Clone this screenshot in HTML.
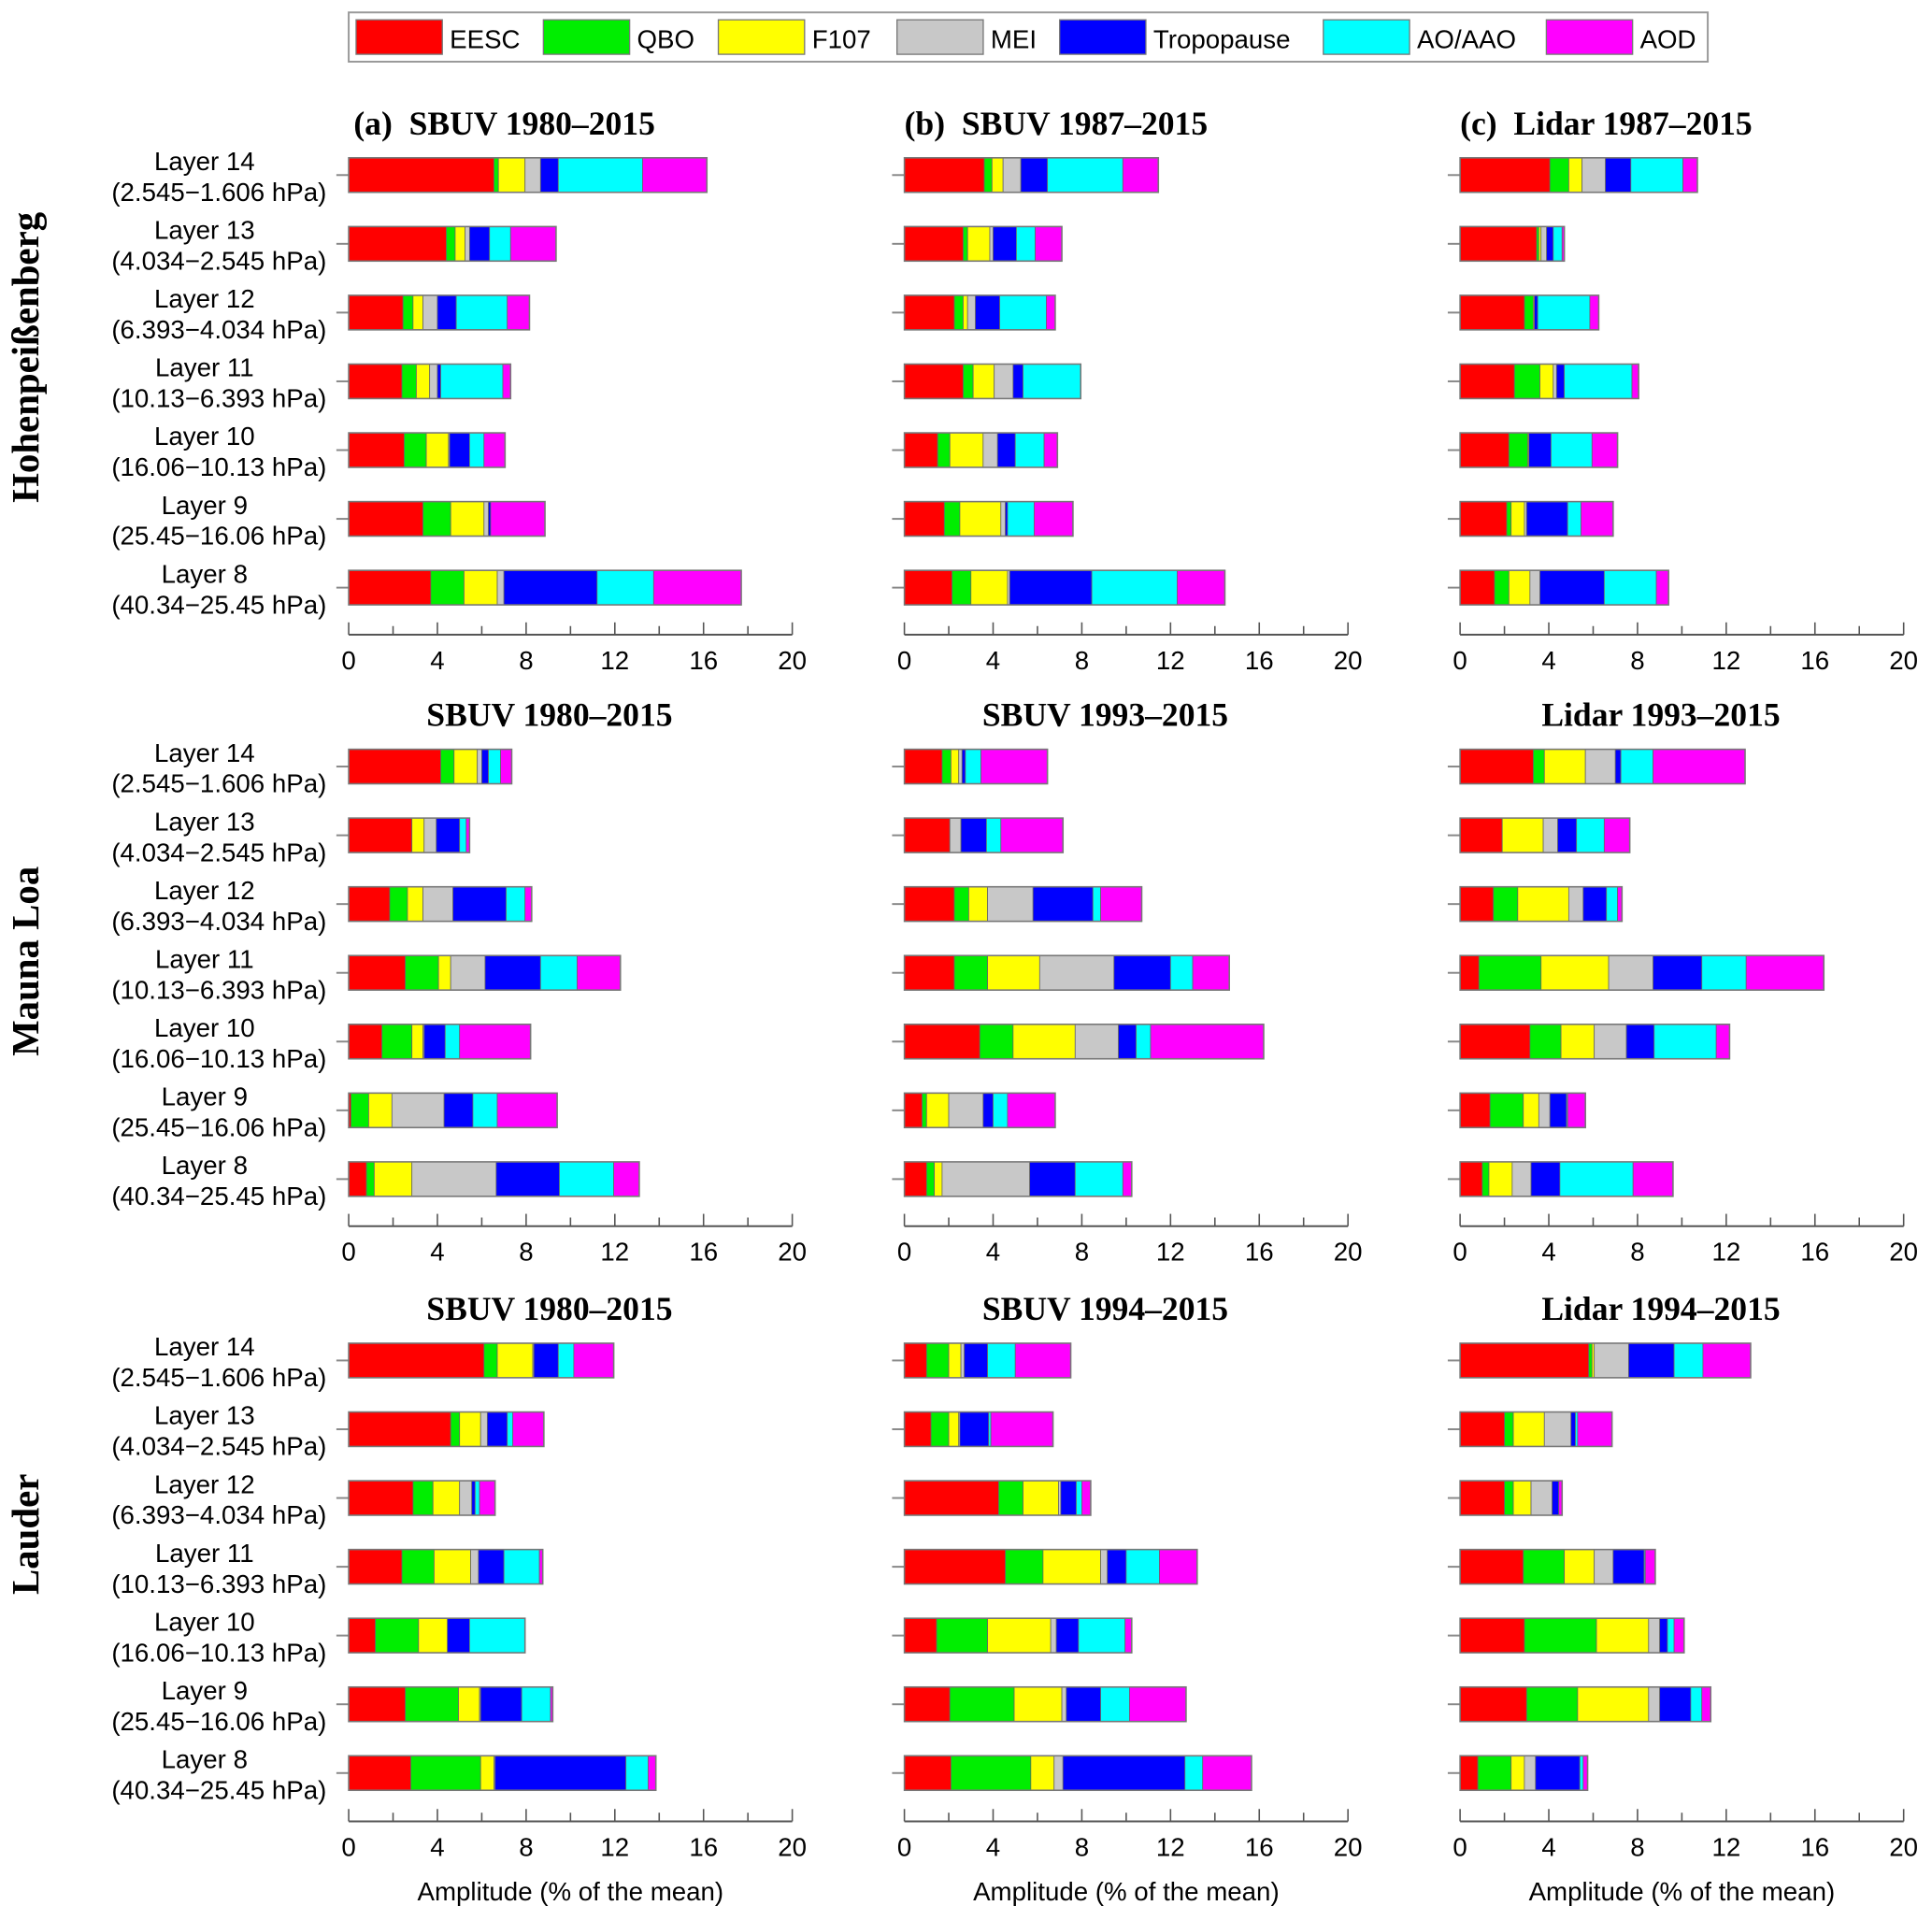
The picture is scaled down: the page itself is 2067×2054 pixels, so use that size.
<!DOCTYPE html>
<html><head><meta charset="utf-8"><style>
html,body{margin:0;padding:0;background:#fff}
svg{display:block}
.tk{font-family:"Liberation Sans",sans-serif;font-size:21px;fill:#000}
.ll{font-family:"Liberation Sans",sans-serif;font-size:21px;fill:#000}
.tt{font-family:"Liberation Serif",serif;font-size:27px;font-weight:bold;fill:#000}
.rl{font-family:"Liberation Serif",serif;font-size:31px;font-weight:bold;fill:#000}
</style></head><body>
<svg id="chart" width="2067" height="2054" viewBox="0 0 1568 1558" xmlns="http://www.w3.org/2000/svg">
<rect x="0" y="0" width="1568" height="1558" fill="#fff"/>
<g id="legend">
<rect x="283" y="10" width="1103" height="40" fill="#fff" stroke="#999" stroke-width="1.5"/>
</g>
<g id="plots"></g>
</svg>
<script>
const series = ["EESC","QBO","F107","MEI","Tropopause","AO/AAO","AOD"];
const colors = ["#ff0000","#00ee00","#ffff00","#c8c8c8","#0000ff","#00ffff","#ff00ff"];
const layerNames = ["Layer 14","Layer 13","Layer 12","Layer 11","Layer 10","Layer 9","Layer 8"];
const layerRanges = ["(2.545\u22121.606 hPa)","(4.034\u22122.545 hPa)","(6.393\u22124.034 hPa)","(10.13\u22126.393 hPa)","(16.06\u221210.13 hPa)","(25.45\u221216.06 hPa)","(40.34\u221225.45 hPa)"];
const xTicks = [0,4,8,12,16,20];
const stations = ["Hohenpei\u00dfenberg","Mauna Loa","Lauder"];
const titles = [["(a)\u00a0\u00a0SBUV 1980\u20132015","(b)\u00a0\u00a0SBUV 1987\u20132015","(c)\u00a0\u00a0Lidar 1987\u20132015"],
                ["SBUV 1980\u20132015","SBUV 1993\u20132015","Lidar 1993\u20132015"],
                ["SBUV 1980\u20132015","SBUV 1994\u20132015","Lidar 1994\u20132015"]];
// rows = layers 14..8; columns = EESC,QBO,F107,MEI,Tropopause,AO/AAO,AOD
const hohenSbuv = [[6.55,0.2,1.2,0.7,0.8,3.8,2.9],[4.4,0.4,0.45,0.2,0.9,0.95,2.05],[2.45,0.45,0.45,0.65,0.85,2.3,1.0],[2.4,0.65,0.6,0.35,0.15,2.8,0.35],[2.5,1.0,1.0,0.05,0.9,0.65,0.95],[3.35,1.25,1.5,0.2,0.1,0,2.45],[3.7,1.5,1.5,0.3,4.2,2.55,3.95]];
const hohenSbuvB = [[3.6,0.35,0.5,0.8,1.2,3.4,1.6],[2.65,0.2,1.0,0.15,1.05,0.85,1.2],[2.25,0.4,0.2,0.35,1.1,2.1,0.4],[2.65,0.45,0.95,0.85,0.45,2.6,0],[1.5,0.55,1.5,0.65,0.8,1.3,0.6],[1.8,0.7,1.85,0.2,0.1,1.2,1.75],[2.15,0.85,1.65,0.1,3.7,3.85,2.15]];
const hohenLidar = [[4.05,0.85,0.6,1.05,1.15,2.35,0.65],[3.45,0.1,0.1,0.25,0.3,0.4,0.1],[2.9,0.4,0.05,0,0.15,2.35,0.4],[2.45,1.15,0.6,0.15,0.35,3.05,0.3],[2.2,0.85,0.05,0,1.0,1.85,1.15],[2.1,0.2,0.6,0.1,1.85,0.6,1.45],[1.55,0.65,0.95,0.45,2.9,2.35,0.55]];
const maunaSbuv = [[4.15,0.6,1.05,0.2,0.3,0.55,0.5],[2.85,0,0.55,0.55,1.05,0.3,0.15],[1.85,0.8,0.7,1.35,2.4,0.85,0.3],[2.55,1.5,0.55,1.55,2.5,1.65,1.95],[1.5,1.35,0.5,0.05,0.95,0.65,3.2],[0.1,0.8,1.05,2.35,1.3,1.1,2.7],[0.8,0.35,1.7,3.8,2.85,2.45,1.15]];
const maunaSbuvB = [[1.7,0.4,0.35,0.15,0.15,0.7,3.0],[2.05,0,0,0.5,1.15,0.65,2.8],[2.25,0.65,0.85,2.05,2.7,0.35,1.85],[2.25,1.5,2.35,3.35,2.55,1.0,1.65],[3.4,1.5,2.8,1.95,0.8,0.65,5.1],[0.8,0.2,1.0,1.55,0.45,0.65,2.15],[1.0,0.35,0.35,3.95,2.05,2.15,0.4]];
const maunaLidar = [[3.3,0.5,1.85,1.35,0.25,1.45,4.15],[1.9,0,1.85,0.65,0.85,1.25,1.15],[1.5,1.1,2.3,0.65,1.05,0.5,0.2],[0.85,2.8,3.05,2.0,2.2,2.0,3.5],[3.15,1.4,1.5,1.45,1.25,2.8,0.6],[1.35,1.5,0.7,0.5,0.75,0.05,0.8],[1.0,0.3,1.05,0.85,1.3,3.3,1.8]];
const lauderSbuv = [[6.1,0.6,1.6,0.05,1.1,0.7,1.8],[4.6,0.4,0.95,0.3,0.9,0.25,1.4],[2.9,0.9,1.2,0.55,0.15,0.2,0.7],[2.4,1.45,1.65,0.35,1.15,1.6,0.15],[1.2,1.95,1.3,0,1.0,2.5,0],[2.55,2.4,0.95,0.05,1.85,1.3,0.1],[2.8,3.15,0.6,0.05,5.9,1.0,0.35]];
const lauderSbuvB = [[1.0,1.0,0.55,0.15,1.05,1.25,2.5],[1.2,0.8,0.45,0.05,1.3,0.1,2.8],[4.25,1.1,1.6,0.1,0.7,0.25,0.4],[4.55,1.7,2.6,0.3,0.85,1.5,1.7],[1.45,2.3,2.85,0.25,1.0,2.1,0.3],[2.05,2.9,2.15,0.2,1.55,1.3,2.55],[2.1,3.6,1.05,0.4,5.5,0.8,2.2]];
const lauderLidar = [[5.8,0.15,0.1,1.55,2.05,1.3,2.15],[2.0,0.4,1.4,1.2,0.2,0.1,1.55],[2.0,0.4,0.8,0.95,0.3,0,0.15],[2.85,1.85,1.35,0.85,1.4,0.05,0.45],[2.9,3.25,2.35,0.5,0.35,0.3,0.45],[3.0,2.3,3.2,0.5,1.4,0.5,0.4],[0.8,1.5,0.6,0.5,2.0,0.15,0.2]];
const panelData = [[hohenSbuv,hohenSbuvB,hohenLidar],[maunaSbuv,maunaSbuvB,maunaLidar],[lauderSbuv,lauderSbuvB,lauderLidar]];

const NS="http://www.w3.org/2000/svg";
function mk(tag,attrs,parent,text){const e=document.createElementNS(NS,tag);for(const k in attrs)e.setAttribute(k,attrs[k]);if(text!==undefined)e.textContent=text;parent.appendChild(e);return e;}
const colX0=[283,734,1185], pxPer=18;
const rowFirst=[142,622,1104], rowAxis=[515,995,1478], spacing=55.8, barH=28;
const rowLabelY=[290,780,1245];
function xs(c,v){return colX0[c]+v*pxPer;}
function ys(r,i){return rowFirst[r]+i*spacing;}

const leg=document.getElementById('legend');
const legSw=[289,441,583,728,860,1074,1255];
series.forEach((s,k)=>{
  const r=mk('rect',{x:legSw[k],y:16,width:70,height:28,fill:colors[k],stroke:'#777','stroke-width':1},leg);
  
  
  const t=mk('text',{x:legSw[k]+76,y:39,class:'tk','font-size':22.5},leg,s);
  
  
});

const plots=document.getElementById('plots');
for(let r=0;r<3;r++){
  const rl=mk('text',{x:0,y:0,class:'rl','text-anchor':'middle',transform:`translate(31,${rowLabelY[r]}) rotate(-90)`},plots,stations[r]);
  
  
  for(let c=0;c<3;c++){
    const g=mk('g',{},plots);
    
    
    const tx = r===0 ? colX0[c]+(c===0?4:0) : colX0[c]+163;
    const tt=mk('text',{x:tx,y:rowFirst[r]-33,class:'tt','text-anchor':r===0?'start':'middle'},g,titles[r][c]);
    
    
    const ay=rowAxis[r];
    const ax=mk('line',{x1:xs(c,0),x2:xs(c,20),y1:ay,y2:ay,stroke:'#555','stroke-width':1.5},g);
    
    
    for(let v=0;v<=20;v+=2){
      mk('line',{x1:xs(c,v),x2:xs(c,v),y1:ay,y2:ay-(v%4===0?10:7),stroke:'#555','stroke-width':1.2},g);
    }
    xTicks.forEach(v=>{
      const t=mk('text',{x:xs(c,v),y:ay+28,class:'tk','text-anchor':'middle'},g,String(v));
      
      
    });
    if(r===2){
      const xl=mk('text',{x:xs(c,10),y:1542,class:'tk','text-anchor':'middle'},g,'Amplitude (% of the mean)');
      
      
    }
    const data=panelData[r][c];
    data.forEach((vals,i)=>{
      const cy=ys(r,i);
      mk('line',{x1:colX0[c]-10,x2:colX0[c],y1:cy,y2:cy,stroke:'#888','stroke-width':1.5},g);
      if(c===0){
        const l1=mk('text',{x:166,y:cy-4,class:'ll','text-anchor':'middle'},g,layerNames[i]);
        
        
        const l2=mk('text',{x:265,y:cy+21,class:'ll','text-anchor':'end'},g,layerRanges[i]);
        
        
      }
      let acc=0;
      vals.forEach((v,k)=>{
        if(v<=0){return;}
        const b=mk('rect',{x:xs(c,acc),y:cy-barH/2,width:v*pxPer,height:barH,fill:colors[k],stroke:'#666','stroke-width':0.6},g);
        
        
        acc+=v;
      });
      const o=mk('rect',{x:xs(c,0),y:cy-barH/2,width:acc*pxPer,height:barH,fill:'none',stroke:'#777','stroke-width':1.2},g);
      
      
    });
  }
}
</script>
</body></html>
